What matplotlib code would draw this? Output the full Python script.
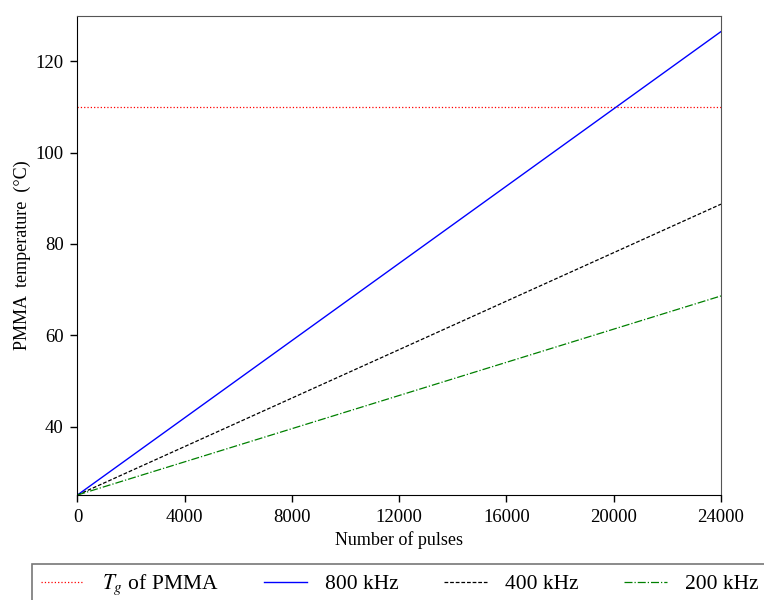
import matplotlib
matplotlib.use("Agg")
import matplotlib.pyplot as plt

plt.rcParams["font.family"] = ["Liberation Serif", "DejaVu Serif"]
plt.rcParams["mathtext.fontset"] = "stix"

# data
pulses = [0, 24000]
temp_800 = [25.0, 126.5]
temp_400 = [25.0, 88.7]
temp_200 = [25.0, 68.6]
tg_pmma = 110.0

x_ticks = [0, 4000, 8000, 12000, 16000, 20000, 24000]
y_ticks = [40, 60, 80, 100, 120]

fig = plt.figure(figsize=(7.64, 6.0), dpi=100)
ax = fig.add_axes([0.1014, 0.175, 0.8423, 0.799])

tg_line, = ax.plot(pulses, [tg_pmma, tg_pmma], color="red", linestyle=":", linewidth=0.9)
l800, = ax.plot(pulses, temp_800, color="blue", linestyle="-", linewidth=1.0)
l400, = ax.plot(pulses, temp_400, color="black", linestyle=(0, (3, 1.5)), linewidth=0.9)
l200, = ax.plot(pulses, temp_200, color="green", linestyle="-.", linewidth=0.9)

ax.set_xlim(0, 24000)
ax.set_ylim(25, 130)
ax.set_xticks(x_ticks)
ax.set_yticks(y_ticks)
ax.tick_params(direction="out", length=5, width=1, labelsize=13.5, pad=5,
               top=False, right=False)
for side in ("top", "right"):
    ax.spines[side].set_color("#555555")

ax.set_xlabel("Number of pulses", fontsize=13, labelpad=4)
ax.set_ylabel("PMMA  temperature  (°C)", fontsize=13, labelpad=3)

leg = fig.legend(
    [tg_line, l800, l400, l200],
    ["$T_g$ of PMMA", "800 kHz", "400 kHz", "200 kHz"],
    loc="upper left",
    bbox_to_anchor=(0.0419, 0.06),
    ncol=4,
    fontsize=15.5,
    frameon=True,
    fancybox=False,
    edgecolor="#555555",
    handlelength=2.0,
    handletextpad=0.85,
    columnspacing=2.1,
    borderpad=0.4,
    borderaxespad=0,
)
leg.get_frame().set_linewidth(1.2)

fig.savefig("out.png", dpi=100)
